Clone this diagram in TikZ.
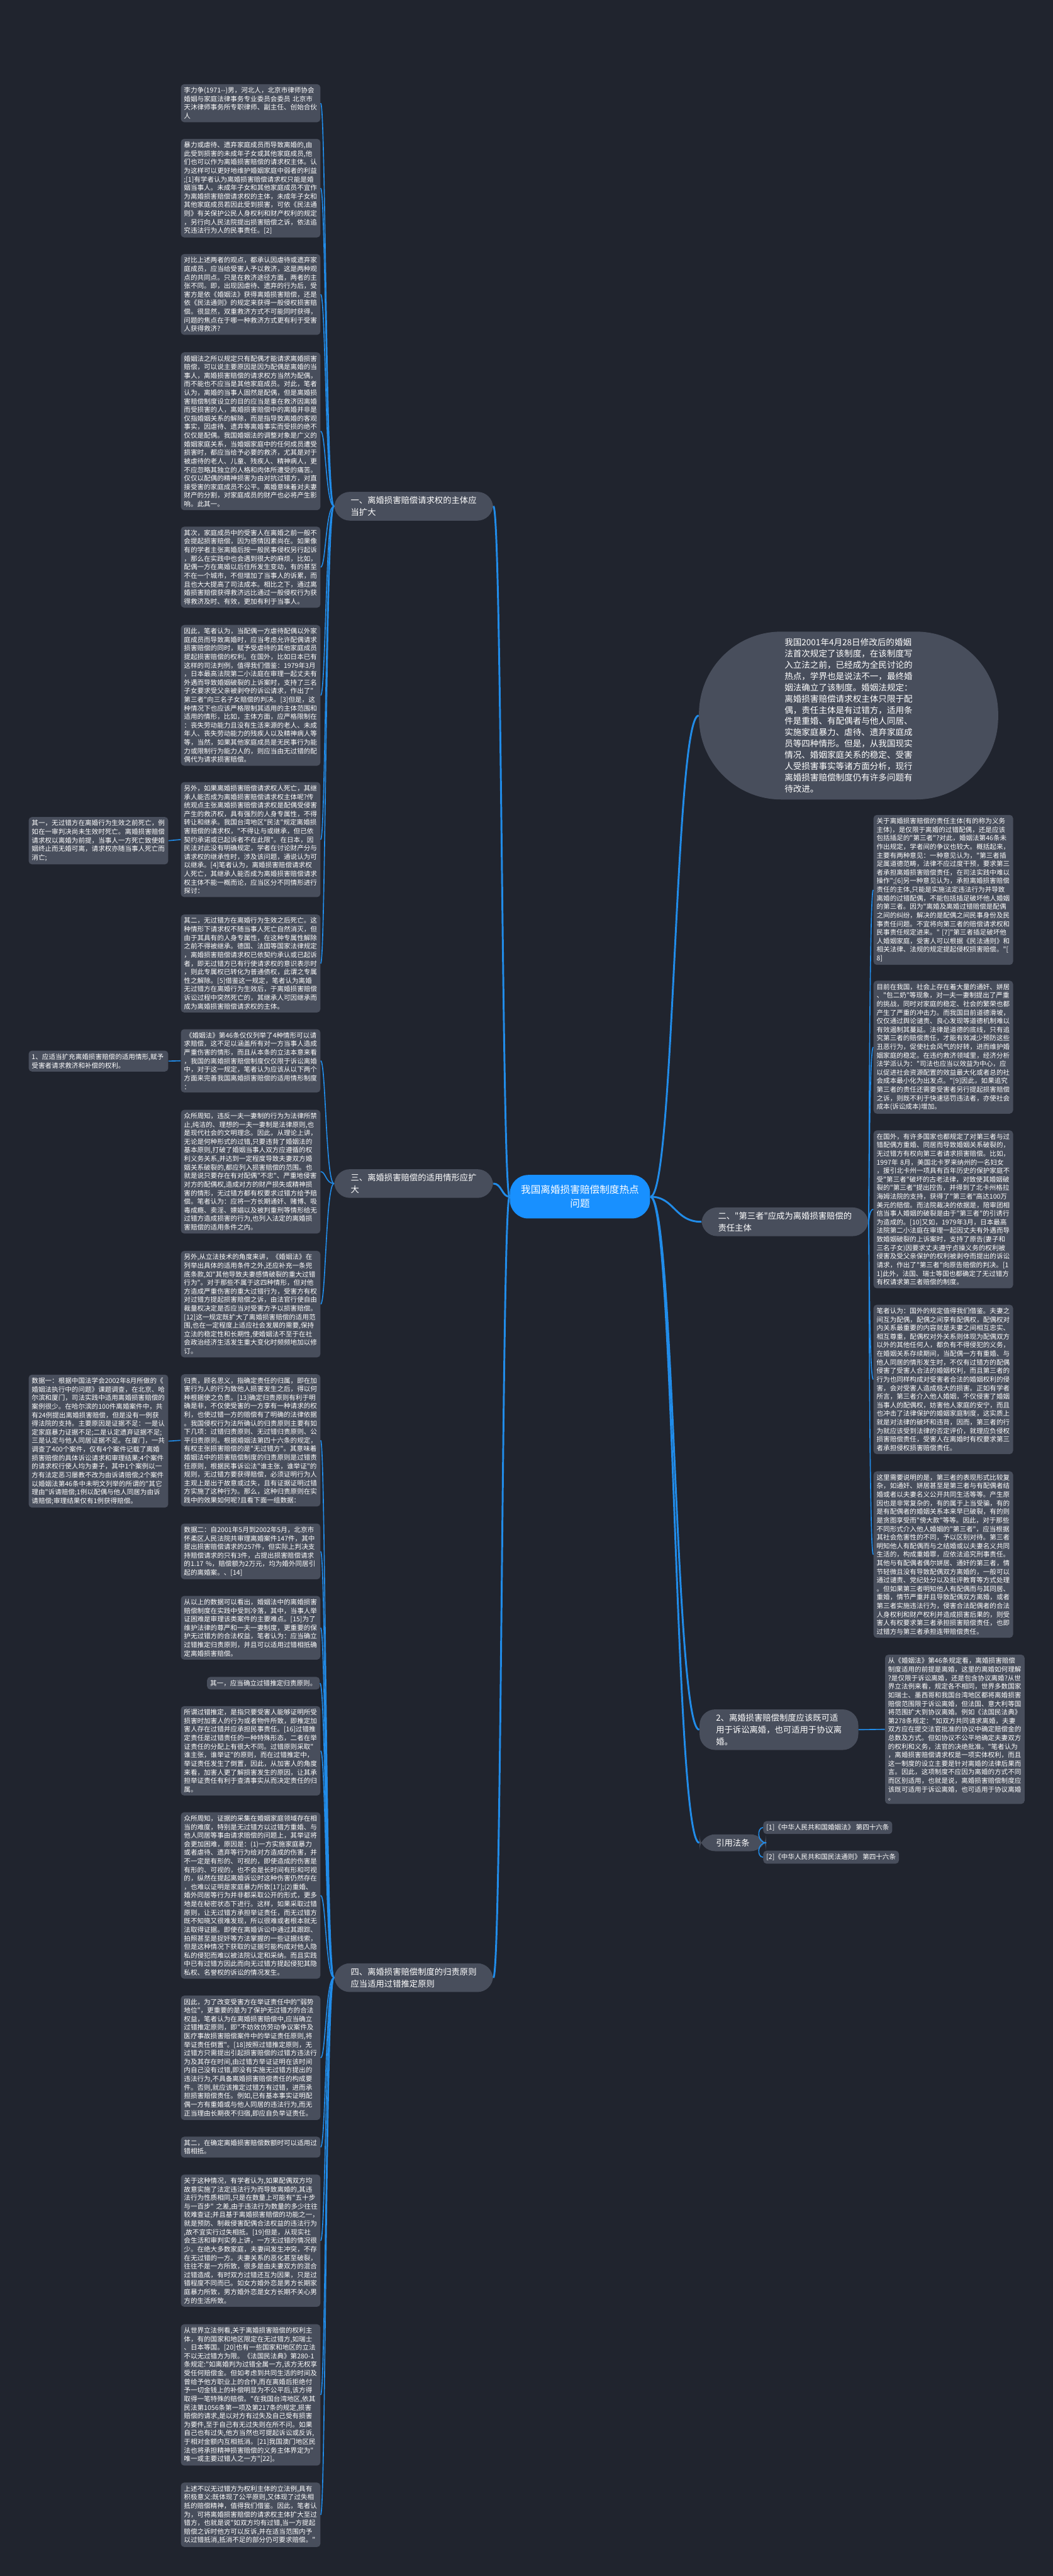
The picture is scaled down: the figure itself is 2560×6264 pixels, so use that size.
\documentclass[tikz,border=0pt]{standalone}
\usepackage{fontspec}
\newfontfamily\cjk{Noto Sans CJK SC}
\usetikzlibrary{calc}
\definecolor{bgnavy}{RGB}{32,36,46}
\definecolor{boxgray}{RGB}{72,78,92}
\definecolor{linkblue}{RGB}{33,140,233}
\definecolor{rootblue}{RGB}{24,144,255}
\def\conn[#1](#2)(#3)(#4){\draw[#1] (#2) .. controls (#2 -| #4) and (#3 -| #4) .. (#3);}
\tikzset{
  boxtext/.style={fill=boxgray, rounded corners=0.08cm, text=white, align=left,
    font=\cjk\fontsize{4.6pt}{5.92pt}\selectfont, text width=3.24cm,
    inner xsep=0.075cm, inner ysep=0.075cm, anchor=north west},
  refbox/.style={boxtext, text width=, anchor=west},
  pillnode/.style={fill=boxgray, rounded corners=0.38cm, text=white, align=left,
    font=\cjk\fontsize{5.8pt}{8.2pt}\selectfont, inner xsep=0.4cm, inner ysep=0.11cm},
  rootpill/.style={fill=rootblue, rounded corners=0.45cm, text=white, align=center,
    font=\cjk\fontsize{6.8pt}{9.6pt}\selectfont, inner xsep=0.27cm, inner ysep=0.25cm},
  bubblenode/.style={fill=boxgray, rounded corners=2cm, text=white, align=left,
    font=\cjk\fontsize{5.9pt}{7.77pt}\selectfont, minimum width=7.27cm, minimum height=4.08cm},
  childlink/.style={draw=linkblue, line width=0.025cm},
  mainlink/.style={draw=linkblue, line width=0.045cm}
}
\begin{document}
\begin{tikzpicture}[x=0.01cm,y=-0.01cm]
%%%%% background %%%%%
\fill[bgnavy] (0,0) rectangle (2560,6264);

%%%%% root and main branches %%%%%
\node[rootpill] (root) at (1410,2910) {我国离婚损害赔偿制度热点\\问题};
\node[pillnode,anchor=west] (b1) at (812,1231) {一、离婚损害赔偿请求权的主体应\\当扩大};
\node[pillnode,anchor=west] (b3) at (812,2878) {三、离婚损害赔偿的适用情形应扩\\大};
\node[pillnode,anchor=west] (b4) at (812,4809) {四、离婚损害赔偿制度的归责原则\\应当适用过错推定原则};
\node[pillnode,anchor=west] (b2) at (1705,2971) {二、"第三者"应成为离婚损害赔偿的\\责任主体};
\node[pillnode,anchor=west] (b5) at (1700,4206) {2、离婚损害赔偿制度应该既可适\\用于诉讼离婚，也可适用于协议离\\婚。};
\node[pillnode,anchor=west] (cite) at (1700,4481) {引用法条};

\node[bubblenode] (bub) at (2063,1740) {我国2001年4月28日修改后的婚姻\\法首次规定了该制度，在该制度写\\入立法之前，已经成为全民讨论的\\热点，学界也是说法不一，最终婚\\姻法确立了该制度。婚姻法规定：\\离婚损害赔偿请求权主体只限于配\\偶，责任主体是有过错方，适用条\\件是重婚、有配偶者与他人同居、\\实施家庭暴力、虐待、遗弃家庭成\\员等四种情形。但是，从我国现实\\情况、婚姻家庭关系的稳定、受害\\人受损害事实等诸方面分析，现行\\离婚损害赔偿制度仍有许多问题有\\待改进。};

%%%%% branch 1 %%%%%
\node[boxtext] (a1) at (439,204) {李力争(1971-{}-)男，河北人，北京市律师协会\\婚姻与家庭法律事务专业委员会委员~北京市\\天沐律师事务所专职律师、副主任、创始合伙\\人};
\node[boxtext] (a2) at (439,337) {暴力或虐待、遗弃家庭成员而导致离婚的,由\\此受到损害的未成年子女或其他家庭成员,他\\们也可以作为离婚损害赔偿的请求权主体。认\\为这样可以更好地维护婚姻家庭中弱者的利益\\;[1]有学者认为离婚损害赔偿请求权只能是婚\\姻当事人。未成年子女和其他家庭成员不宜作\\为离婚损害赔偿请求权的主体，未成年子女和\\其他家庭成员若因此受到损害，可依《民法通\\则》有关保护公民人身权利和财产权利的规定\\，另行向人民法院提出损害赔偿之诉，依法追\\究违法行为人的民事责任。[2]};
\node[boxtext] (a3) at (439,617) {对比上述两者的观点，都承认因虐待或遗弃家\\庭成员，应当给受害人予以救济，这是两种观\\点的共同点。只是在救济途径方面，两者的主\\张不同。即，出现因虐待、遗弃的行为后，受\\害方是依《婚姻法》获得离婚损害赔偿，还是\\依《民法通则》的规定来获得一般侵权损害赔\\偿。很显然，双重救济方式不可能同时获得，\\问题的焦点在于哪一种救济方式更有利于受害\\人获得救济?};
\node[boxtext] (a4) at (439,856) {婚姻法之所以规定只有配偶才能请求离婚损害\\赔偿，可以说主要原因是因为配偶是离婚的当\\事人，离婚损害赔偿的请求权方当然为配偶，\\而不能也不应当是其他家庭成员。对此，笔者\\认为，离婚的当事人固然是配偶，但是离婚损\\害赔偿制度设立的目的应当是重在救济因离婚\\而受损害的人，离婚损害赔偿中的离婚并非是\\仅指婚姻关系的解除，而是指导致离婚的客观\\事实，因虐待、遗弃等离婚事实而受损的绝不\\仅仅是配偶。我国婚姻法的调整对象是广义的\\婚姻家庭关系，当婚姻家庭中的任何成员遭受\\损害时，都应当给予必要的救济，尤其是对于\\被虐待的老人、儿童、残疾人、精神病人，更\\不应忽略其独立的人格和肉体所遭受的痛苦。\\仅仅以配偶的精神损害为由对抗过错方，对直\\接受害的家庭成员不公平。离婚意味着对夫妻\\财产的分割，对家庭成员的财产也必将产生影\\响。此其一。};
\node[boxtext] (a5) at (439,1280) {其次，家庭成员中的受害人在离婚之前一般不\\会提起损害赔偿，因为感情因素尚在。如果像\\有的学者主张离婚后按一般民事侵权另行起诉\\，那么在实践中也会遇到很大的麻烦，比如，\\配偶一方在离婚以后住所发生变动，有的甚至\\不在一个城市，不但增加了当事人的诉累，而\\且也大大提高了司法成本。相比之下，通过离\\婚损害赔偿获得救济远比通过一般侵权行为获\\得救济及时、有效，更加有利于当事人。};
\node[boxtext] (a6) at (439,1519) {因此，笔者认为，当配偶一方虐待配偶以外家\\庭成员而导致离婚时，应当考虑允许配偶请求\\损害赔偿的同时，赋予受虐待的其他家庭成员\\提起损害赔偿的权利。在国外，比如日本已有\\这样的司法判例，值得我们借鉴：1979年3月\\，日本最高法院第二小法庭在审理一起丈夫有\\外遇而导致婚姻破裂的上诉案时，支持了三名\\子女要求受父亲被剥夺的诉讼请求，作出了"\\第三者"向三名子女赔偿的判决。[3]但是，这\\种情况下也应该严格限制其适用的主体范围和\\适用的情形，比如，主体方面，应严格限制在\\：丧失劳动能力且没有生活来源的老人、未成\\年人、丧失劳动能力的残疾人以及精神病人等\\等，当然，如果其他家庭成员是无民事行为能\\力或限制行为能力人的，则应当由无过错的配\\偶代为请求损害赔偿。};
\node[boxtext] (a7) at (439,1901) {另外，如果离婚损害赔偿请求权人死亡，其继\\承人能否成为离婚损害赔偿请求权主体呢?传\\统观点主张离婚损害赔偿请求权是配偶受侵害\\产生的救济权，具有强烈的人身专属性，不得\\转让和继承。我国台湾地区"民法"规定离婚损\\害赔偿的请求权，"不得让与或继承，但已依\\契约承诺或已起诉者不在此限"。在日本，因\\民法对此没有明确规定，学者在讨论财产分与\\请求权的继承性时，涉及该问题，通说认为可\\以继承。[4]笔者认为，离婚损害赔偿请求权\\人死亡，其继承人能否成为离婚损害赔偿请求\\权主体不能一概而论，应当区分不同情形进行\\探讨：};
\node[boxtext] (a8) at (439,2223) {其二，无过错方在离婚行为生效之后死亡。这\\种情形下请求权不随当事人死亡自然消灭，但\\由于其具有的人身专属性，在这种专属性解除\\之前不得被继承。德国、法国等国家法律规定\\，离婚损害赔偿请求权已依契约承认或已起诉\\者，即无过错方已有行使请求权的意识表示时\\，则此专属权已转化为普通债权，此谓之专属\\性之解除。[5]借鉴这一规定，笔者认为离婚\\无过错方在离婚行为生效后，于离婚损害赔偿\\诉讼过程中突然死亡的，其继承人可因继承而\\成为离婚损害赔偿请求权的主体。};
\node[boxtext] (a7x) at (69,1986) {其一，无过错方在离婚行为生效之前死亡，例\\如在一审判决尚未生效时死亡。离婚损害赔偿\\请求权以离婚为前提，当事人一方死亡致使婚\\姻终止而无婚可离，请求权亦随当事人死亡而\\消亡;};

%%%%% branch 3 %%%%%
\node[boxtext] (c1) at (439,2502) {\hspace*{0.25em}《婚姻法》第46条仅仅列举了4种情形可以请\\求赔偿，这不足以涵盖所有对一方当事人造成\\严重伤害的情形，而且从本条的立法本意来看\\，我国的离婚损害赔偿制度仅仅限于诉讼离婚\\中，对于这一规定，笔者认为应该从以下两个\\方面来完善我国离婚损害赔偿的适用情形制度\\：};
\node[boxtext] (c2) at (439,2698) {众所周知，违反一夫一妻制的行为为法律所禁\\止,纯洁的、理想的一夫一妻制是法律原则,也\\是现代社会的文明理念。因此，从理论上讲，\\无论是何种形式的过错,只要违背了婚姻法的\\基本原则,打破了婚姻当事人双方应遵循的权\\利义务关系,并达到一定程度导致夫妻双方婚\\姻关系破裂的,都应列入损害赔偿的范围。也\\就是说只要存在有对配偶"不忠"、严重地侵害\\对方的配偶权,造成对方的财产损失或精神损\\害的情形，无过错方都有权要求过错方给予赔\\偿。笔者认为：应将一方长期通奸、赌博、吸\\毒成瘾、卖淫、嫖娼以及被判重刑等情形给无\\过错方造成损害的行为,也列入法定的离婚损\\害赔偿的适用条件之内。};
\node[boxtext] (c3) at (439,3041) {另外,从立法技术的角度来讲，《婚姻法》在\\列举出具体的适用条件之外,还应补充一条兜\\底条款,如"其他导致夫妻感情破裂的重大过错\\行为"。对于那些不属于这四种情形，但对他\\方造成严重伤害的重大过错行为，受害方有权\\对过错方提起损害赔偿之诉，由法官行使自由\\裁量权决定是否应当对受害方予以损害赔偿。\\{}[12]这一规定既扩大了离婚损害赔偿的适用范\\围,也在一定程度上适应社会发展的需要,保持\\立法的稳定性和长期性,使婚姻法不至于在社\\会政治经济生活发生重大变化时频频地加以修\\订。};
\node[boxtext] (c1x) at (69,2554) {1、应适当扩充离婚损害赔偿的适用情形,赋予\\受害者请求救济和补偿的权利。};

%%%%% branch 4 %%%%%
\node[boxtext] (d1) at (439,3341) {归责，顾名思义，指确定责任的归属，即在加\\害行为人的行为致他人损害发生之后，得以何\\种根据使之负责。[13]确定归责原则有利于明\\确是非，不仅使受害的一方享有一种请求的权\\利，也使过错一方的赔偿有了明确的法律依据\\。我国侵权行为法所确认的归责原则主要有如\\下几项：过错归责原则、无过错归责原则、公\\平归责原则。根据婚姻法第四十六条的规定，\\有权主张损害赔偿的是"无过错方"。其意味着\\婚姻法中的损害赔偿制度的归责原则是过错责\\任原则，根据民事诉讼法"谁主张，谁举证"的\\规则，无过错方要获得赔偿，必须证明行为人\\主观上是出于故意或过失，且有证据证明过错\\方实施了这种行为。那么，这种归责原则在实\\践中的效果如何呢?且看下面一组数据：};
\node[boxtext] (d2) at (439,3704) {数据二：自2001年5月到2002年5月，北京市\\怀柔区人民法院共审理离婚案件147件，其中\\提出损害赔偿请求的257件，但实际上判决支\\持赔偿请求的只有3件，占提出损害赔偿请求\\的1.17~\%，赔偿额为2万元，均为婚外同居引\\起的离婚案。、[14]};
\node[boxtext] (d3) at (439,3880) {从以上的数据可以看出，婚姻法中的离婚损害\\赔偿制度在实践中受到冷落，其中，当事人举\\证困难是审理该类案件的主要难点。[15]为了\\维护法律的尊严和一夫一妻制度，更重要的保\\护无过错方的合法权益，笔者认为：应当确立\\过错推定归责原则，并且可以适用过错相抵确\\定离婚损害赔偿。};
\node[boxtext,text width=,anchor=north east] (d4) at (778,4077) {其一，应当确立过错推定归责原则。};
\node[boxtext] (d5) at (439,4148) {所谓过错推定，是指只要受害人能够证明所受\\损害时加害人的行为或者物件所致，即推定加\\害人存在过错并应承担民事责任。[16]过错推\\定责任是过错责任的一种特殊形态，二者在举\\证责任的分配上有很大不同。过错原则采取"\\谁主张，谁举证"的原则，而在过错推定中，\\举证责任发生了倒置，因此，从加害人的角度\\来看，加害人更了解损害发生的原因，让其承\\担举证责任有利于查清事实从而决定责任的归\\属。};
\node[boxtext] (d6) at (439,4406) {众所周知，证据的采集在婚姻家庭领域存在相\\当的难度，特别是无过错方以过错方重婚、与\\他人同居等事由请求赔偿的问题上，其举证将\\会更加困难，原因是：(1)一方实施家庭暴力\\或者虐待、遗弃等行为给对方造成的伤害，并\\不一定是有形的、可视的，即使造成的伤害是\\有形的、可视的，也不会是长时间有形和可视\\的，纵然在提起离婚诉讼时这种伤害仍然存在\\，也难以证明是家庭暴力所致[17];(2)重婚、\\婚外同居等行为并非都采取公开的形式，更多\\地是在秘密状态下进行。这样，如果采取过错\\原则，让无过错方承担举证责任，而无过错方\\既不知晓又很难发现，所以很难或者根本就无\\法取得证据。即使在离婚诉讼中通过其跟踪、\\拍照甚至是捉奸等方法掌握的一些证据线索，\\但是这种情况下获取的证据可能构成对他人隐\\私的侵犯而难以被法院认定和采纳。而且实践\\中已有过错方因此而向无过错方提起侵犯其隐\\私权、名誉权的诉讼的情况发生。};
\node[boxtext] (d7) at (439,4852) {因此，为了改变受害方在举证责任中的"弱势\\地位"，更重要的是为了保护无过错方的合法\\权益，笔者认为在离婚损害赔偿中,应当确立\\过错推定原则，即"不妨效仿劳动争议案件及\\医疗事故损害赔偿案件中的举证责任原则,将\\举证责任倒置"。[18]按照过错推定原则，无\\过错方只需提出引起损害赔偿的过错方违法行\\为及其存在时间,由过错方举证证明在该时间\\内自己没有过错,即没有实施无过错方提出的\\违法行为,不具备离婚损害赔偿责任的构成要\\件。否则,就应该推定过错方有过错，进而承\\担损害赔偿责任。例如,已有基本事实证明配\\偶一方有重婚或与他人同居的违法行为,而无\\正当理由长期夜不归宿,即应自负举证责任。};
\node[boxtext] (d8) at (439,5195) {其二，在确定离婚损害赔偿数额时可以适用过\\错相抵。};
\node[boxtext] (d9) at (439,5287) {关于这种情况，有学者认为,如果配偶双方均\\故意实施了法定违法行为而导致离婚的,其违\\法行为性质相同,只是在数量上可能有"五十步\\与一百步"~之差,由于违法行为数量的多少往往\\较难查证;并且基于离婚损害赔偿的功能之一，\\就是预防、制裁侵害配偶合法权益的违法行为\\,故不宜实行过失相抵。[19]但是，从现实社\\会生活和审判实务上讲，一方无过错的情况很\\少。在绝大多数家庭，夫妻间发生冲突，不存\\在无过错的一方。夫妻关系的恶化甚至破裂，\\往往不是一方所致，很多是由夫妻双方的混合\\过错造成，有时双方过错还互为因果，只是过\\错程度不同而已。如女方婚外恋是男方长期家\\庭暴力所致，男方婚外恋是女方长期不关心男\\方的生活所致。};
\node[boxtext] (d10) at (439,5651) {从世界立法例看,关于离婚损害赔偿的权利主\\体，有的国家和地区限定在无过错方,如瑞士\\、日本等国。[20]也有一些国家和地区的立法\\不以无过错方为限。《法国民法典》第280-1\\条规定:"如离婚判为过错全属一方,该方无权享\\受任何赔偿金。但如考虑到共同生活的时间及\\曾给予他方职业上的合作,而在离婚后拒绝付\\予一切金钱上的补偿明显为不公平后,该方得\\取得一笔特殊的赔偿。"在我国台湾地区,依其\\民法第1056条第一项及第217条的规定,损害\\赔偿的请求,是以对方有过失及自己受有损害\\为要件,至于自己有无过失则在所不问。如果\\自己也有过失,他方当然也可提起诉讼或反诉,\\于相对金额内互相抵消。[21]我国澳门地区民\\法也将承担精神损害赔偿的义务主体界定为"\\唯一或主要过错人之一方"[22]。};
\node[boxtext] (d11) at (439,6036) {上述不以无过错方为权利主体的立法例,具有\\积极意义:既体现了公平原则,又体现了过失相\\抵的赔偿精神，值得我们借鉴。因此，笔者认\\为，可将离婚损害赔偿的请求权主体扩大至过\\错方，也就是说"如双方均有过错,当一方提起\\赔偿之诉时他方可以反诉,并在适当范围内予\\以过错抵消,抵消不足的部分仍可要求赔偿。"};
\node[boxtext] (d1x) at (69,3342) {数据一：根据中国法学会2002年8月所做的《\\婚姻法执行中的问题》课题调查，在北京、哈\\尔滨和厦门，司法实践中适用离婚损害赔偿的\\案例很少。在哈尔滨的100件离婚案件中，共\\有24例提出离婚损害赔偿，但是没有一例获\\得法院的支持。主要原因是证据不足：一是认\\定家庭暴力证据不足;二是认定遗弃证据不足;\\三是认定与他人同居证据不足。在厦门，一共\\调查了400个案件，仅有4个案件记载了离婚\\损害赔偿的具体诉讼请求和审理结果;4个案件\\的请求权行使人均为妻子，其中1个案例以一\\方有法定恶习屡教不改为由诉请赔偿;2个案件\\以婚姻法第46条中未明文列举的所谓的"其它\\理由"诉请赔偿;1例以配偶与他人同居为由诉\\请赔偿;审理结果仅有1例获得赔偿。};

%%%%% branch 2 %%%%%
\node[boxtext] (e1) at (2123,1981) {关于离婚损害赔偿的责任主体(有的称为义务\\主体)，是仅限于离婚的过错配偶，还是应该\\包括插足的"第三者"?对此，婚姻法第46条未\\作出规定，学者间的争议也较大。概括起来，\\主要有两种意见：一种意见认为，"第三者插\\足属道德范畴，法律不应过度干预，要求第三\\者承担离婚损害赔偿责任，在司法实践中难以\\操作";[6]另一种意见认为，承担离婚损害赔偿\\责任的主体,只能是实施法定违法行为并导致\\离婚的过错配偶，不能包括插足破坏他人婚姻\\的第三者。因为"离婚及离婚过错赔偿是配偶\\之间的纠纷，解决的是配偶之间民事身份及民\\事责任问题。不宜将向第三者的赔偿请求权和\\民事责任规定进来。"~[7]"第三者插足破坏他\\人婚姻家庭，受害人可以根据《民法通则》和\\相关法律、法规的规定提起侵权损害赔偿。"[\\8]};
\node[boxtext] (e2) at (2123,2384) {目前在我国，社会上存在着大量的通奸、姘居\\、"包二奶"等现象，对一夫一妻制提出了严重\\的挑战，同时对家庭的稳定、社会的繁荣也都\\产生了严重的冲击力。而我国目前道德滑坡，\\仅仅通过舆论谴责、良心发现等道德机制难以\\有效遏制其蔓延。法律是道德的底线，只有追\\究第三者的赔偿责任，才能有效减少预防这些\\丑恶行为，促使社会风气的好转，进而维护婚\\姻家庭的稳定。在违约救济领域里，经济分析\\法学派认为："司法也应当以效益为中心，应\\以促进社会资源配置的效益最大化或者总的社\\会成本最小化为出发点。"[9]因此，如果追究\\第三者的责任还需要受害者另行提起损害赔偿\\之诉，则既不利于快速惩罚违法者，亦使社会\\成本(诉讼成本)增加。};
\node[boxtext] (e3) at (2123,2748) {在国外，有许多国家也都规定了对第三者与过\\错配偶方重婚、同居而导致婚姻关系破裂的，\\无过错方有权向第三者请求损害赔偿。比如，\\1997年~8月，美国北卡罗来纳州的一名妇女\\，援引北卡州一项具有百年历史的保护家庭不\\受"第三者"破坏的古老法律，对致使其婚姻破\\裂的"第三者"提出控告，并得到了北卡州格拉\\海姆法院的支持，获得了"第三者"高达100万\\美元的赔偿。而法院裁决的依据是，陪审团相\\信当事人婚姻的破裂是由于"第三者"的引诱行\\为造成的。[10]又如，1979年3月，日本最高\\法院第二小法庭在审理一起因丈夫有外遇而导\\致婚姻破裂的上诉案时，支持了原告(妻子和\\三名子女)因要求丈夫遵守贞操义务的权利被\\侵害及受父亲保护的权利被剥夺而提出的诉讼\\请求，作出了"第三者"向原告赔偿的判决。[1\\1]此外，法国、瑞士等国也都确定了无过错方\\有权请求第三者赔偿的制度。};
\node[boxtext] (e4) at (2123,3172) {笔者认为：国外的规定值得我们借鉴。夫妻之\\间互为配偶，配偶之间享有配偶权，配偶权对\\内关系最重要的内容就是夫妻之间相互忠实、\\相互尊重，配偶权对外关系则体现为配偶双方\\以外的其他任何人，都负有不得侵犯的义务，\\在婚姻关系存续期间，当配偶一方有重婚、与\\他人同居的情形发生时，不仅有过错方的配偶\\侵害了受害人合法的婚姻权利，而且第三者的\\行为也同样构成对受害者合法的婚姻权利的侵\\害，会对受害人造成极大的损害。正如有学者\\所言，第三者介入他人婚姻，不仅侵害了婚姻\\当事人的配偶权，妨害他人家庭的安宁，而且\\也冲击了法律保护的婚姻家庭制度，这实质上\\就是对法律的破坏和违背，因而，第三者的行\\为就应该受到法律的否定评价，就理应负侵权\\损害赔偿责任，受害人在离婚时有权要求第三\\者承担侵权损害赔偿责任。};
\node[boxtext] (e5) at (2123,3577) {这里需要说明的是，第三者的表现形式比较复\\杂，如通奸、姘居甚至是第三者与有配偶者结\\婚或者以夫妻名义公开共同生活等等。产生原\\因也是非常复杂的，有的属于上当受骗，有的\\是有配偶者的婚姻关系本来早已破裂，有的则\\是贪图享受而"傍大款"等等。因此，对于那些\\不同形式介入他人婚姻的"第三者"，应当根据\\其社会危害性的不同，予以区别对待。第三者\\明知他人有配偶而与之结婚或以夫妻名义共同\\生活的，构成重婚罪，应依法追究刑事责任。\\其他与有配偶者偶尔姘居、通奸的第三者，情\\节轻微且没有导致配偶双方离婚的，一般可以\\通过谴责、党纪处分以及批评教育等方式处理\\。但如果第三者明知他人有配偶而与其同居、\\重婚，情节严重并且导致配偶双方离婚，或者\\第三者实施违法行为，侵害合法配偶者的合法\\人身权利和财产权利并造成损害后果的，则受\\害人有权要求第三者承担损害赔偿责任，也即\\过错方与第三者承担连带赔偿责任。};

%%%%% 2, and cited laws %%%%%
\node[boxtext] (b5x) at (2151,4023) {从《婚姻法》第46条规定看，离婚损害赔偿\\制度适用的前提是离婚，这里的离婚如何理解\\?是仅限于诉讼离婚，还是包含协议离婚?从世\\界立法例来看，规定各不相同，世界多数国家\\如瑞士、墨西哥和我国台湾地区都将离婚损害\\赔偿范围限于诉讼离婚，但法国、意大利等国\\将范围扩大到协议离婚。例如《法国民法典》\\第278条规定："如双方共同请求离婚，夫妻\\双方应在提交法官批准的协议中确定赔偿金的\\总数及方式。但如协议不公平地确定夫妻双方\\的权利和义务，法官的决绝批准。"笔者认为\\，离婚损害赔偿请求权是一项实体权利，而且\\这一制度的设立主要是针对离婚的法律后果而\\言。因此，这项制度不应因为离婚的方式不同\\而区别适用，也就是说，离婚损害赔偿制度应\\该既可适用于诉讼离婚，也可适用于协议离婚\\。};
\node[refbox] (r1) at (1855,4444) {[1]《中华人民共和国婚姻法》~第四十六条};
\node[refbox] (r2) at (1855,4516) {[2]《中华人民共和国民法通则》~第四十六条};

%%%%% connectors %%%%%
\coordinate (tRootL) at (1220,0);
\coordinate (tRootR) at (1640,0);
\coordinate (tA) at (792,0);
\coordinate (tE) at (2113,0);
\coordinate (tRef) at (1840,0);

\foreach \p in {b1,b3,b4} {\conn[mainlink](root.west)(\p.east)(tRootL)}
\foreach \p in {bub,b2,b5,cite} {\conn[mainlink](root.east)(\p.west)(tRootR)}

\foreach \i in {1,...,8} {\conn[childlink](b1.west)(a\i.east)(tA)}
\foreach \i in {1,...,3} {\conn[childlink](b3.west)(c\i.east)(tA)}
\foreach \i in {1,...,11} {\conn[childlink](b4.west)(d\i.east)(tA)}
\foreach \i in {1,...,5} {\conn[childlink](b2.east)(e\i.west)(tE)}
\foreach \i in {1,2} {\conn[childlink](cite.east)(r\i.west)(tRef)}

\draw[childlink] (a7.west) -- (a7x.east);
\draw[childlink] (c1.west) -- (c1x.east);
\draw[childlink] (d1.west) -- (d1x.east);
\draw[childlink] (b5.east) -- (b5x.west);
\end{tikzpicture}
\end{document}
